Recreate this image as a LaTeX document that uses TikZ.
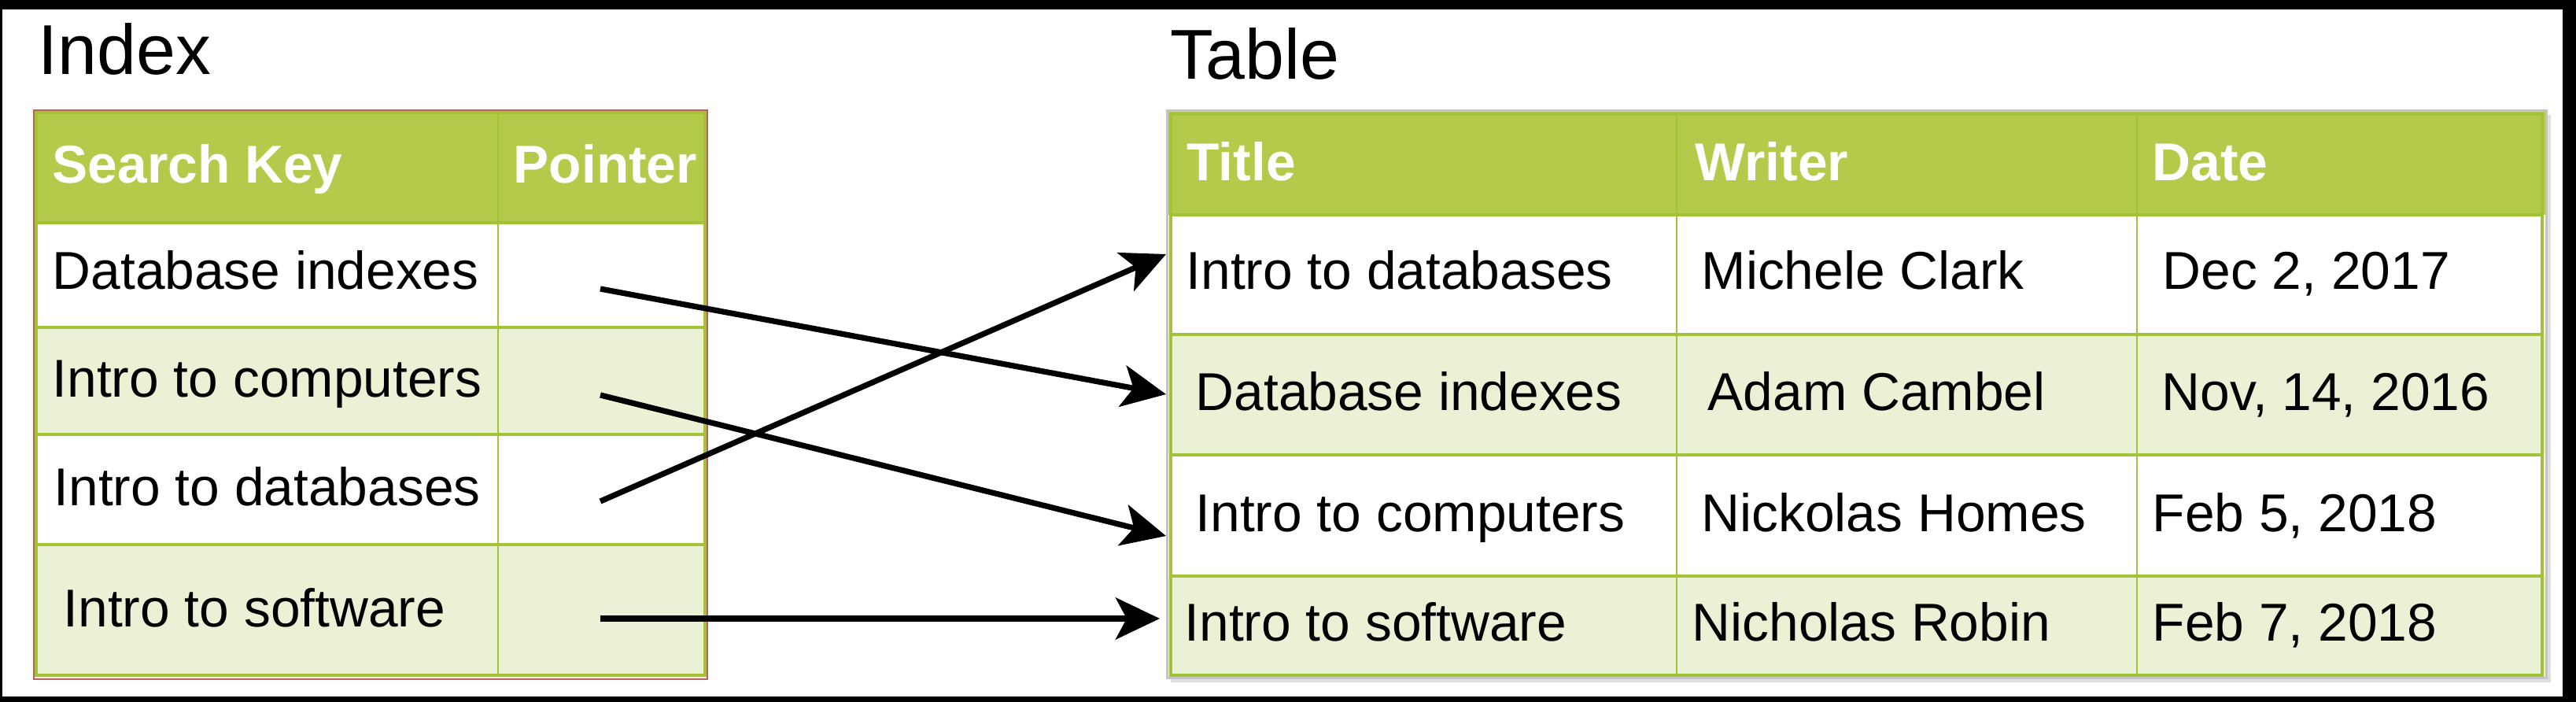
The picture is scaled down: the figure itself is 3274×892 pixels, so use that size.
\documentclass[tikz,border=0pt]{standalone}
\usepackage{fontspec}
\setmainfont{Liberation Sans}
\usetikzlibrary{arrows.meta}
\definecolor{hdr}{HTML}{B4CA4A}
\definecolor{lite}{HTML}{EBF1D4}
\definecolor{gridc}{HTML}{A2C237}
\definecolor{redb}{HTML}{C0605C}
\definecolor{grayb}{HTML}{C4C4C8}
\begin{document}
\begin{tikzpicture}[x=0.01cm,y=-0.01cm,
  body/.style={anchor=base west, inner sep=0pt, font=\fontsize{19.25}{23}\selectfont, text=black},
  head/.style={anchor=base west, inner sep=0pt, font=\fontsize{19.25}{23}\selectfont\bfseries, text=white},
  ttl/.style={anchor=base west, inner sep=0pt, font=\fontsize{25.5}{30}\selectfont},
  gridline/.style={draw=gridc, line width=0.038cm},
  ptr/.style={-{Stealth[length=0.56cm,width=0.53cm,inset=0.14cm]}, line width=0.072cm, black}]

% frame
\fill[black] (0,0) rectangle (3274,892);
\fill[white] (3,12) rectangle (3257,885);

% ---------- Index table ----------
\fill[hdr]   (43,140) rectangle (899,283);
\fill[white] (43,283) rectangle (899,416);
\fill[lite]  (43,416) rectangle (899,552);
\fill[white] (43,552) rectangle (899,692);
\fill[lite]  (43,692) rectangle (899,863);
\draw[gridline] (46,143) rectangle (896,858);
\foreach \yy in {283,416,552,692} \draw[gridline] (46,\yy) -- (896,\yy);
\draw[gridline, line width=0.028cm] (633,143) -- (633,858);
\draw[redb, line width=0.025cm] (43,140) rectangle (899,863);

\node[ttl] (idxtitle) at (48,95) {Index};
\node[head] (sk) at (66,233) {Search Key};
\node[head] (pt) at (652,233) {Pointer};
\node[body] (i1) at (66,368) {Database indexes};
\node[body] (i2) at (66,505) {Intro to computers};
\node[body] (i3) at (68,643) {Intro to databases};
\node[body] (i4) at (80,797) {Intro to software};

% ---------- Table ----------
\fill[black!12] (1488,146) rectangle (3242,867);
\fill[hdr]   (1483,141) rectangle (3236,273);
\fill[white] (1483,273) rectangle (3236,425);
\fill[lite]  (1483,425) rectangle (3236,578);
\fill[white] (1483,578) rectangle (3236,732);
\fill[lite]  (1483,732) rectangle (3236,862);
\draw[gridline] (1488,145) rectangle (3231,858);
\foreach \yy in {273,425,578,732} \draw[gridline] (1488,\yy) -- (3231,\yy);
\draw[gridline, line width=0.028cm] (2131,145) -- (2131,858);
\draw[gridline, line width=0.028cm] (2716,145) -- (2716,858);
\draw[grayb, line width=0.03cm] (1483,141) rectangle (3236,862);

\node[ttl] (tbltitle) at (1487,101) {Table};
\node[head] (h1) at (1508,230) {Title};
\node[head] (h2) at (2154,230) {Writer};
\node[head] (h3) at (2735,230) {Date};

\node[body] (t1) at (1507,368) {Intro to databases};
\node[body] (w1) at (2162,368) {Michele Clark};
\node[body] (d1) at (2748,368) {Dec 2, 2017};
\node[body] (t2) at (1519,522) {Database indexes};
\node[body] (w2) at (2170,522) {Adam Cambel};
\node[body] (d2) at (2747,522) {Nov, 14, 2016};
\node[body] (t3) at (1519,676) {Intro to computers};
\node[body] (w3) at (2162,676) {Nickolas Homes};
\node[body] (d3) at (2735,676) {Feb 5, 2018};
\node[body] (t4) at (1505,815) {Intro to software};
\node[body] (w4) at (2150,815) {Nicholas Robin};
\node[body] (d4) at (2735,815) {Feb 7, 2018};

% ---------- pointers ----------
\coordinate (s1) at (763,367);
\coordinate (s2) at (763,502);
\coordinate (s3) at (763,637);
\coordinate (s4) at (763,786);
\coordinate (e1) at (1482,501);
\coordinate (e2) at (1482,681);
\coordinate (e3) at (1482,323);
\coordinate (e4) at (1474,786);
\draw[ptr] (s1) -- (e1);
\draw[ptr] (s2) -- (e2);
\draw[ptr] (s3) -- (e3);
\draw[ptr] (s4) -- (e4);
\end{tikzpicture}
\end{document}
